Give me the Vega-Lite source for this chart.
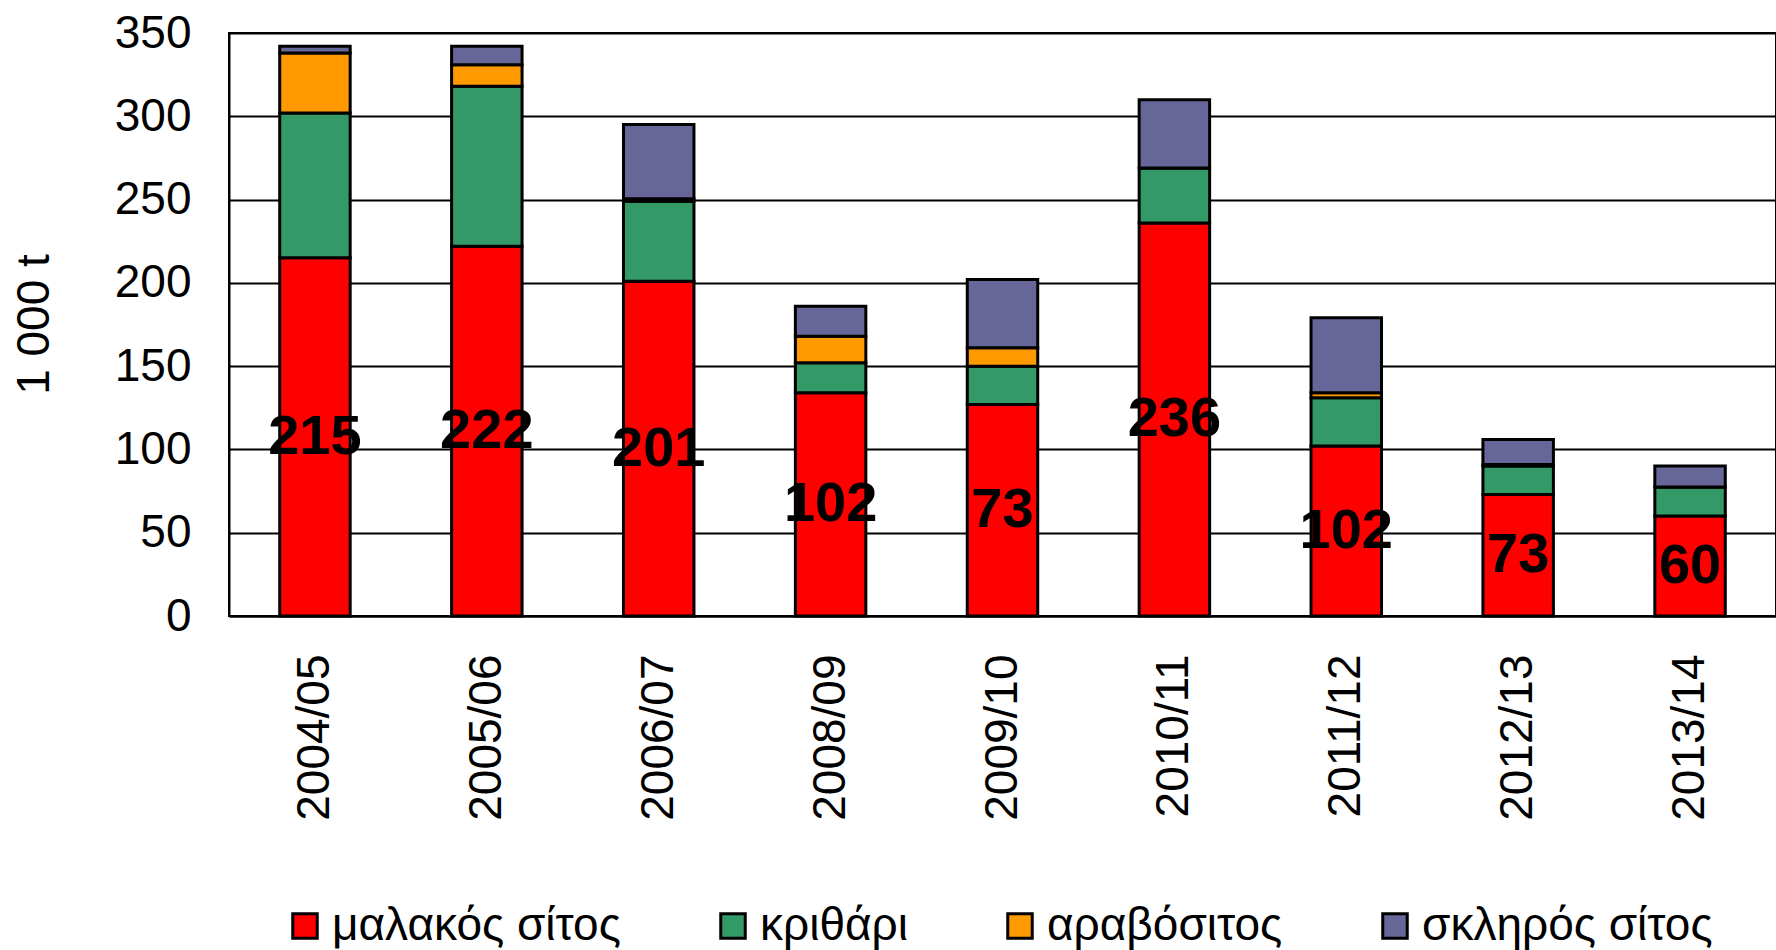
{
  "$schema": "https://vega.github.io/schema/vega-lite/v6.json",
  "autosize": "none",
  "width": 1547,
  "height": 583,
  "padding": {"left": 229, "top": 33, "right": 0, "bottom": 334},
  "background": "white",
  "config": {
    "font": "Liberation Sans",
    "view": {"stroke": "black", "strokeWidth": 2}
  },
  "datasets": {
    "bars": [
      {"season": "2004/05", "crop": "μαλακός σίτος", "k": 1, "value": 215},
      {"season": "2004/05", "crop": "κριθάρι", "k": 2, "value": 87},
      {"season": "2004/05", "crop": "αραβόσιτος", "k": 3, "value": 36},
      {"season": "2004/05", "crop": "σκληρός σίτος", "k": 4, "value": 4},
      {"season": "2005/06", "crop": "μαλακός σίτος", "k": 1, "value": 222},
      {"season": "2005/06", "crop": "κριθάρι", "k": 2, "value": 96},
      {"season": "2005/06", "crop": "αραβόσιτος", "k": 3, "value": 13},
      {"season": "2005/06", "crop": "σκληρός σίτος", "k": 4, "value": 11},
      {"season": "2006/07", "crop": "μαλακός σίτος", "k": 1, "value": 201},
      {"season": "2006/07", "crop": "κριθάρι", "k": 2, "value": 48},
      {"season": "2006/07", "crop": "αραβόσιτος", "k": 3, "value": 1.5},
      {"season": "2006/07", "crop": "σκληρός σίτος", "k": 4, "value": 44.5},
      {"season": "2008/09", "crop": "μαλακός σίτος", "k": 1, "value": 134},
      {"season": "2008/09", "crop": "κριθάρι", "k": 2, "value": 18},
      {"season": "2008/09", "crop": "αραβόσιτος", "k": 3, "value": 16},
      {"season": "2008/09", "crop": "σκληρός σίτος", "k": 4, "value": 18},
      {"season": "2009/10", "crop": "μαλακός σίτος", "k": 1, "value": 127},
      {"season": "2009/10", "crop": "κριθάρι", "k": 2, "value": 23},
      {"season": "2009/10", "crop": "αραβόσιτος", "k": 3, "value": 11},
      {"season": "2009/10", "crop": "σκληρός σίτος", "k": 4, "value": 41},
      {"season": "2010/11", "crop": "μαλακός σίτος", "k": 1, "value": 236},
      {"season": "2010/11", "crop": "κριθάρι", "k": 2, "value": 33},
      {"season": "2010/11", "crop": "αραβόσιτος", "k": 3, "value": 0},
      {"season": "2010/11", "crop": "σκληρός σίτος", "k": 4, "value": 41},
      {"season": "2011/12", "crop": "μαλακός σίτος", "k": 1, "value": 102},
      {"season": "2011/12", "crop": "κριθάρι", "k": 2, "value": 29},
      {"season": "2011/12", "crop": "αραβόσιτος", "k": 3, "value": 3},
      {"season": "2011/12", "crop": "σκληρός σίτος", "k": 4, "value": 45},
      {"season": "2012/13", "crop": "μαλακός σίτος", "k": 1, "value": 73},
      {"season": "2012/13", "crop": "κριθάρι", "k": 2, "value": 17},
      {"season": "2012/13", "crop": "αραβόσιτος", "k": 3, "value": 1},
      {"season": "2012/13", "crop": "σκληρός σίτος", "k": 4, "value": 15},
      {"season": "2013/14", "crop": "μαλακός σίτος", "k": 1, "value": 60},
      {"season": "2013/14", "crop": "κριθάρι", "k": 2, "value": 17.5},
      {"season": "2013/14", "crop": "αραβόσιτος", "k": 3, "value": 0},
      {"season": "2013/14", "crop": "σκληρός σίτος", "k": 4, "value": 12.5}
    ],
    "labels": [
      {"season": "2004/05", "label": "215", "red": 215},
      {"season": "2005/06", "label": "222", "red": 222},
      {"season": "2006/07", "label": "201", "red": 201},
      {"season": "2008/09", "label": "102", "red": 134},
      {"season": "2009/10", "label": "73", "red": 127},
      {"season": "2010/11", "label": "236", "red": 236},
      {"season": "2011/12", "label": "102", "red": 102},
      {"season": "2012/13", "label": "73", "red": 73},
      {"season": "2013/14", "label": "60", "red": 60}
    ]
  },
  "encoding": {
    "x": {
      "field": "season",
      "type": "nominal",
      "sort": null,
      "scale": {"paddingInner": 0.59, "paddingOuter": 0.295},
      "axis": {
        "title": null,
        "labelAngle": -90,
        "labelFontSize": 46,
        "labelColor": "black",
        "labelPadding": 38,
        "tickSize": 0,
        "domainColor": "black",
        "domainWidth": 2
      }
    }
  },
  "layer": [
    {
      "data": {"name": "bars"},
      "mark": {"type": "bar", "stroke": "black", "strokeWidth": 3},
      "encoding": {
        "y": {
          "field": "value",
          "type": "quantitative",
          "stack": "zero",
          "scale": {"domain": [0, 350], "nice": false},
          "axis": {
            "title": "1 000 t",
            "titleFontSize": 46,
            "titleFontWeight": "normal",
            "titleColor": "black",
            "titleAngle": -90,
            "titleX": -195,
            "titleY": 291,
            "titleAlign": "center",
            "titleBaseline": "middle",
            "values": [0, 50, 100, 150, 200, 250, 300, 350],
            "labelFontSize": 46,
            "labelColor": "black",
            "labelPadding": 38,
            "tickSize": 0,
            "domainColor": "black",
            "domainWidth": 2,
            "grid": true,
            "gridColor": "black",
            "gridWidth": 2,
            "gridOpacity": 1
          }
        },
        "color": {
          "field": "crop",
          "type": "nominal",
          "scale": {
            "domain": ["μαλακός σίτος", "κριθάρι", "αραβόσιτος", "σκληρός σίτος"],
            "range": ["#FF0000", "#339966", "#FF9900", "#666699"]
          },
          "legend": {
            "title": null,
            "orient": "none",
            "direction": "horizontal",
            "legendX": 53,
            "legendY": 870,
            "padding": 0,
            "symbolType": "square",
            "symbolSize": 600,
            "symbolStrokeColor": "black",
            "symbolStrokeWidth": 3,
            "symbolOpacity": 1,
            "labelFontSize": 46,
            "labelColor": "black",
            "labelOffset": 4,
            "labelLimit": 1000,
            "columnPadding": 89
          }
        },
        "order": {"field": "k", "type": "quantitative", "sort": "ascending"}
      }
    },
    {
      "data": {"name": "labels"},
      "transform": [{"calculate": "datum.red / 2", "as": "mid"}],
      "mark": {"type": "text", "fontSize": 56, "fontWeight": "bold", "color": "black", "align": "center", "baseline": "middle"},
      "encoding": {
        "y": {"field": "mid", "type": "quantitative"},
        "text": {"field": "label"}
      }
    }
  ]
}
